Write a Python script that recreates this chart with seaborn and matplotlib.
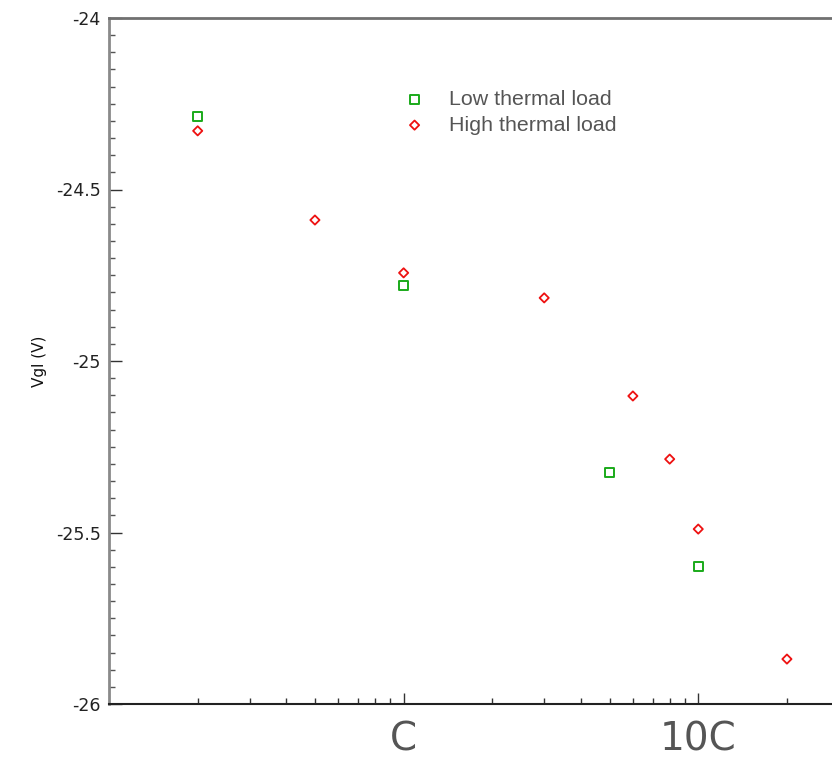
import matplotlib
matplotlib.use("Agg")
import matplotlib.pyplot as plt
import matplotlib.ticker as mticker
import numpy as np
import pandas as pd
import seaborn as sns

# C-rate (multiples of C) and gate voltage readings
low_rate = [0.2, 1, 5, 10]
low_vgl = [-24.286, -24.781, -25.324, -25.598]
high_rate = [0.2, 0.5, 1, 3, 6, 8, 10, 20]
high_vgl = [-24.329, -24.589, -24.743, -24.816, -25.102, -25.286, -25.490, -25.869]

series_names = ["Low thermal load", "High thermal load"]
x_ticks = [1, 10]
x_tick_labels = ["C", "10C"]
y_ticks = [-26, -25.5, -25, -24.5, -24]
y_tick_labels = ["-26", "-25.5", "-25", "-24.5", "-24"]

low_df = pd.DataFrame({"rate": low_rate, "vgl": low_vgl})
high_df = pd.DataFrame({"rate": high_rate, "vgl": high_vgl})

sns.set_style("ticks")
plt.rcParams["font.family"] = ["DejaVu Sans"]

fig = plt.figure(figsize=(8.32, 7.58), dpi=100)
ax = fig.add_axes([109 / 832, 1 - 704 / 758, 1 - 109 / 832, (704 - 18) / 758])

green = "#1aaa1a"
red = "#ee1111"
sns.scatterplot(data=low_df, x="rate", y="vgl", ax=ax, marker="s", s=42,
                facecolor="none", edgecolor=green, color=green, linewidth=1.4,
                label=series_names[0], zorder=3)
sns.scatterplot(data=high_df, x="rate", y="vgl", ax=ax, marker="D", s=22,
                facecolor="none", edgecolor=red, color=red, linewidth=1.3,
                label=series_names[1], zorder=3)

ax.set_xscale("log")
ax.set_xlim(0.1, 10 ** 1.454)
ax.set_ylim(-26, -24)

ax.xaxis.set_major_locator(mticker.FixedLocator(x_ticks))
ax.xaxis.set_major_formatter(mticker.FixedFormatter(x_tick_labels))
ax.xaxis.set_minor_locator(mticker.LogLocator(base=10, subs=np.arange(2, 10)))
ax.xaxis.set_minor_formatter(mticker.NullFormatter())

ax.yaxis.set_major_locator(mticker.FixedLocator(y_ticks))
ax.yaxis.set_major_formatter(mticker.FixedFormatter(y_tick_labels))
ax.yaxis.set_minor_locator(mticker.MultipleLocator(0.05))

ax.tick_params(axis="x", which="major", direction="in", length=8, width=1,
               color="#333333", labelsize=28, labelcolor="#555555", pad=12)
ax.tick_params(axis="x", which="minor", direction="in", length=4, width=1,
               color="#333333")
ax.tick_params(axis="y", which="major", direction="in", length=9, width=1,
               color="#333333", labelsize=12.5, labelcolor="#222222", pad=6)
ax.tick_params(axis="y", which="minor", direction="in", length=4, width=1,
               color="#555555")
for lbl in ax.get_xticklabels():
    lbl.set_fontfamily("Liberation Sans Narrow")

ax.set_xlabel("")
ax.set_ylabel("Vgl (V)", fontsize=11, color="#111111", labelpad=6)

ax.spines["right"].set_visible(False)
ax.spines["left"].set_color("#8a8a8a")
ax.spines["left"].set_linewidth(2)
ax.spines["top"].set_color("#707070")
ax.spines["top"].set_linewidth(2)
ax.spines["bottom"].set_color("#222222")
ax.spines["bottom"].set_linewidth(1.5)

leg = ax.legend(loc="upper left", bbox_to_anchor=(0.396, 0.908), frameon=False,
                fontsize=15.4, handletextpad=1.1, labelspacing=0.33,
                borderaxespad=0, handlelength=1.0)
for t in leg.get_texts():
    t.set_color("#555555")
    t.set_fontfamily("Liberation Sans")

fig.savefig("out.png", dpi=100)
